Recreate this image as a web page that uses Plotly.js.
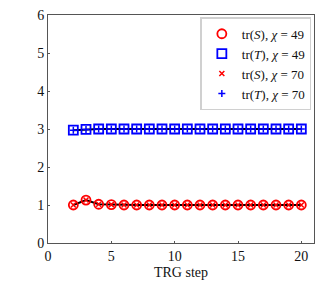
<!DOCTYPE html>
<html><head><meta charset="utf-8">
<script src="https://cdn.plot.ly/plotly-3.0.1.min.js"></script>
<style>html,body{margin:0;padding:0;background:#fff}#c{width:324px;height:286px}</style>
</head><body><div id="c"></div>
<script>
const steps = [2,3,4,5,6,7,8,9,10,11,12,13,14,15,16,17,18,19,20];
const trS49 = [1.0,1.13,1.02,1.01,1.0,1.0,1.0,1.0,1.0,1.0,1.0,1.0,1.0,1.0,1.0,1.0,1.0,1.0,1.0];
const trT49 = [2.97,2.99,3.0,3.0,3.0,3.0,3.0,3.0,3.0,3.0,3.0,3.0,3.0,3.0,3.0,3.0,3.0,3.0,3.0];
const trS70 = [1.0,1.13,1.02,1.01,1.0,1.0,1.0,1.0,1.0,1.0,1.0,1.0,1.0,1.0,1.0,1.0,1.0,1.0,1.0];
const trT70 = [2.97,2.99,3.0,3.0,3.0,3.0,3.0,3.0,3.0,3.0,3.0,3.0,3.0,3.0,3.0,3.0,3.0,3.0,3.0];
const names = ['tr(<i>S</i>), <i>χ</i> = 49','tr(<i>T</i>), <i>χ</i> = 49','tr(<i>S</i>), <i>χ</i> = 70','tr(<i>T</i>), <i>χ</i> = 70'];

const fam = '"Liberation Serif", "DejaVu Serif", serif';
const traces = [
  {x:steps,y:trS49,mode:'lines',line:{color:'black',width:2},showlegend:false,hoverinfo:'skip'},
  {x:steps,y:trT49,mode:'lines',line:{color:'black',width:2},showlegend:false,hoverinfo:'skip'},
  {x:steps,y:trS49,mode:'markers',name:names[0],marker:{symbol:'circle-open',size:9,color:'red',line:{width:1.8,color:'red'}}},
  {x:steps,y:trT49,mode:'markers',name:names[1],marker:{symbol:'square-open',size:9,color:'blue',line:{width:1.8,color:'blue'}}},
  {x:steps,y:trS70,mode:'markers',name:names[2],marker:{symbol:'x-thin-open',size:5,color:'red',line:{width:1.5,color:'red'}}},
  {x:steps,y:trT70,mode:'markers',name:names[3],marker:{symbol:'cross-thin-open',size:5,color:'blue',line:{width:1.5,color:'blue'}}}
];
const layout = {
  width:324,height:286,
  margin:{l:48,r:10,t:15,b:43},
  paper_bgcolor:'#fff',plot_bgcolor:'#fff',
  font:{family:fam,size:14,color:'#111'},
  showlegend:true,
  legend:{x:0.99,y:0.99,xanchor:'right',yanchor:'top',bgcolor:'rgba(255,255,255,0.8)',bordercolor:'#d0d0d0',borderwidth:1.5,font:{family:fam,size:13,color:'#111'},itemwidth:30,tracegroupgap:0},
  xaxis:{range:[0,21],tickvals:[0,5,10,15,20],ticks:'inside',ticklen:2,tickcolor:'#555',showgrid:false,zeroline:false,showline:true,linecolor:'#555',linewidth:1,mirror:true,
    tickfont:{family:fam,size:14,color:'#111'},
    title:{text:'TRG step',font:{family:fam,size:14,color:'#111'},standoff:4}},
  yaxis:{range:[0,6],tickvals:[0,1,2,3,4,5,6],ticks:'inside',ticklen:2,tickcolor:'#555',showgrid:false,zeroline:false,showline:true,linecolor:'#555',linewidth:1,mirror:true,
    tickfont:{family:fam,size:14,color:'#111'}}
};
Plotly.newPlot('c',traces,layout,{displayModeBar:false,staticPlot:true});
</script></body></html>
